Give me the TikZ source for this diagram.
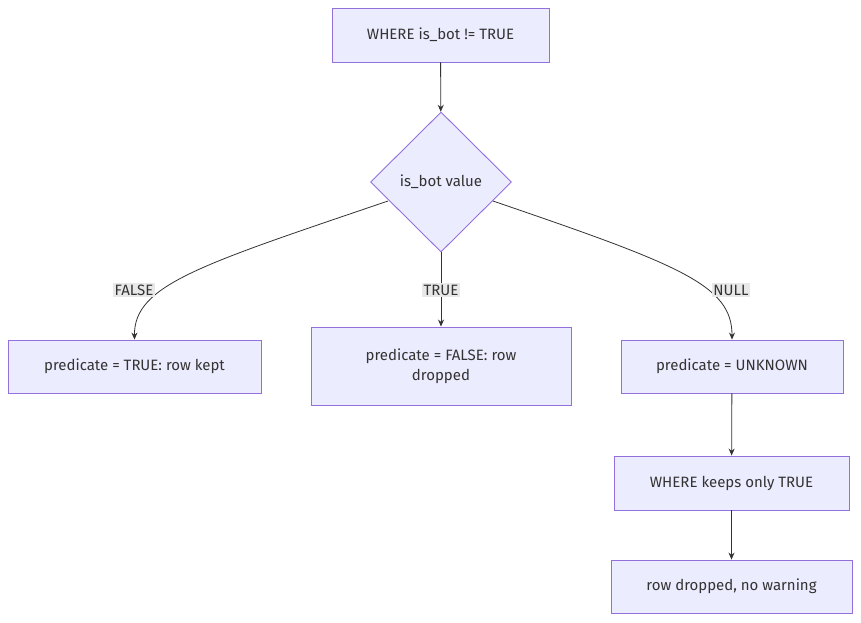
\documentclass[tikz,border=0pt]{standalone}
\usepackage{fontspec}
\setmainfont{Fira Sans}
\usetikzlibrary{shapes.geometric,arrows.meta}
\definecolor{nfill}{HTML}{ECECFF}
\definecolor{nstroke}{HTML}{9370DB}
\definecolor{ltxt}{HTML}{333333}
\begin{document}
\begin{tikzpicture}[x=1pt,y=-1pt,
  box/.style={draw=nstroke,fill=nfill,line width=0.9pt,minimum height=53pt,inner sep=0pt,text=ltxt,font=\fontsize{15}{20}\selectfont,align=center},
  dia/.style={diamond,draw=nstroke,fill=nfill,line width=0.9pt,minimum width=141pt,minimum height=140pt,inner sep=0pt,text=ltxt,font=\fontsize{15}{20}\selectfont},
  lab/.style={fill=black!9,inner sep=1.5pt,text=ltxt,font=\fontsize{15}{18}\selectfont},
  edge/.style={draw=ltxt,line width=0.8pt,-{Stealth[length=7pt,width=6pt]}}]
\useasboundingbox (0,0) rectangle (861,622);
\node[box,minimum width=217pt,minimum height=54pt] (top) at (440.5,35) {WHERE is\_bot != TRUE};
\node[dia] (d) at (441,182) {is\_bot value};
\node[box,minimum width=253pt] (l) at (134.5,366.5) {predicate = TRUE: row kept};
\node[box,minimum width=260pt,minimum height=78pt] (m) at (441,366) {predicate = FALSE: row\\dropped};
\node[box,minimum width=222pt] (r) at (732,366.5) {predicate = UNKNOWN};
\node[box,minimum width=235pt,minimum height=54pt] (w) at (731.5,483) {WHERE keeps only TRUE};
\node[box,minimum width=241pt] (rd) at (731.5,586.5) {row dropped, no warning};
\coordinate (dl) at (388,201);
\coordinate (dr) at (493,201);
\draw[edge] (top) -- (d);
\draw[edge] (dl) .. controls (200,265) and (134,285) .. (l.north);
\draw[edge] (dr) .. controls (680,265) and (732,285) .. (r.north);
\draw[edge] (d) -- (m);
\draw[edge] (r) -- (w);
\draw[edge] (w) -- (rd);
\node[lab] (lf) at (134,290) {FALSE};
\node[lab] (lt) at (441,290) {TRUE};
\node[lab] (ln) at (731,290) {NULL};
\end{tikzpicture}
\end{document}
